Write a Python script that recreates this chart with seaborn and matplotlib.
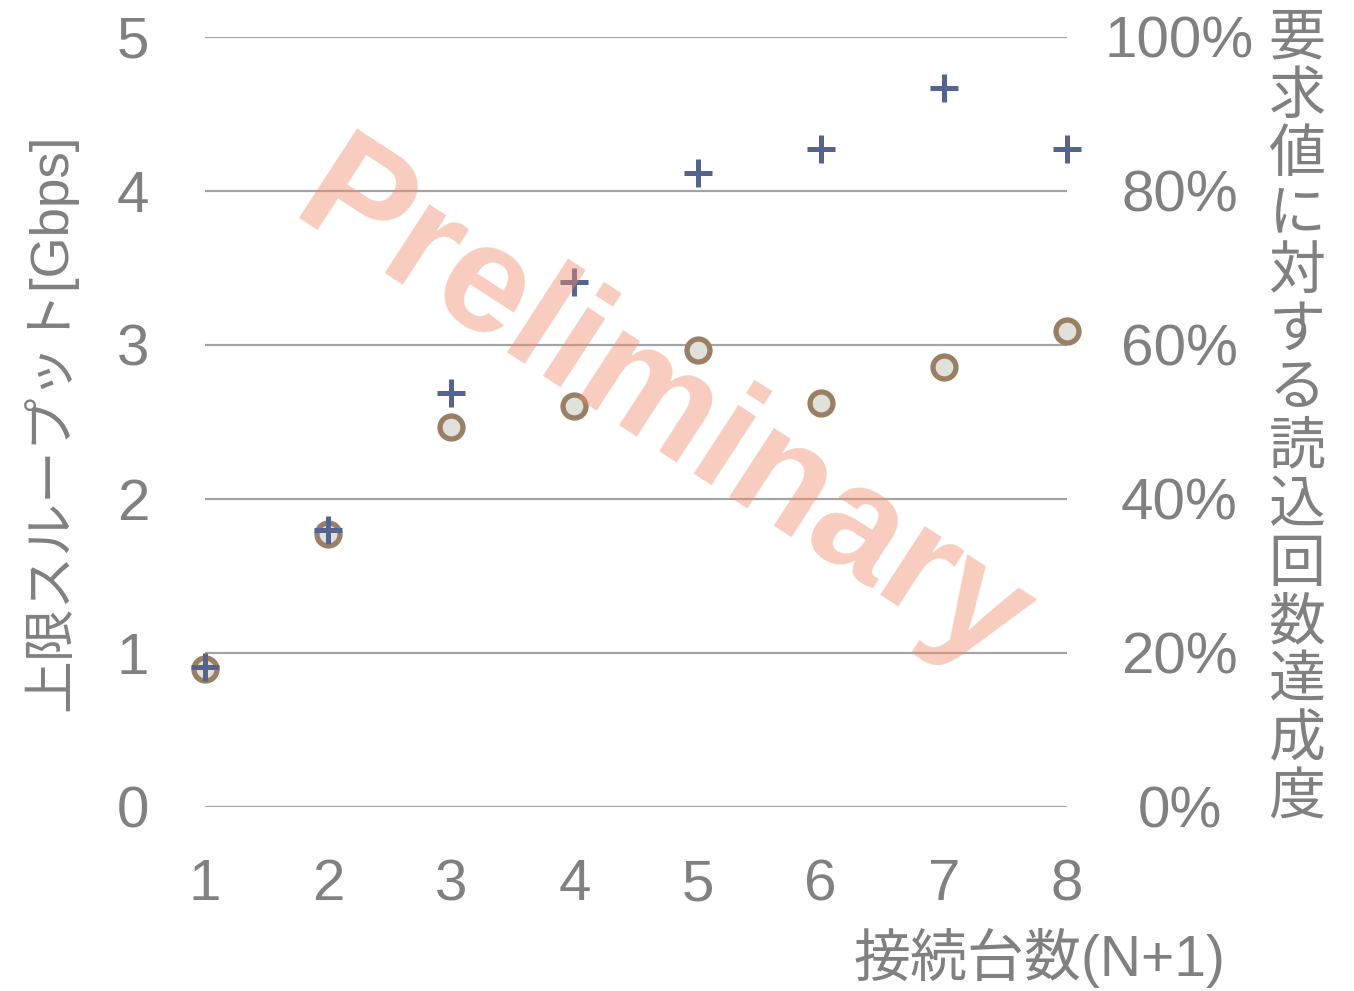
import matplotlib
matplotlib.use("Agg")
import matplotlib.pyplot as plt
import seaborn as sns
import pandas as pd

# Measurements per number of connected nodes
nodes = [1, 2, 3, 4, 5, 6, 7, 8]
throughput_gbps = [0.91, 1.80, 2.69, 3.41, 4.12, 4.27, 4.67, 4.27]
achievement_pct = [17.9, 35.5, 49.4, 52.1, 59.4, 52.5, 57.2, 61.8]

left_ticks = [0, 1, 2, 3, 4, 5]
right_ticks = [0, 20, 40, 60, 80, 100]
right_tick_labels = [f"{v}%" for v in right_ticks]

x_label = "接続台数(N+1)"
left_label = "上限スループット[Gbps]"
right_label = "要求値に対する読込回数達成度"
watermark = "Preliminary"

df = pd.DataFrame({"nodes": nodes, "throughput": throughput_gbps, "ratio": achievement_pct})

sns.set_theme(style="white")
plt.rcParams["font.family"] = ["Liberation Sans", "Noto Sans CJK JP"]

TEXT = "#808080"
W, H = 1354, 991
fig = plt.figure(figsize=(W / 100, H / 100), dpi=100)
ax = fig.add_axes([205 / W, 1 - 807 / H, (1067 - 205) / W, (807 - 37) / H])
ax2 = ax.twinx()

# draw the throughput axis above the ratio axis
ax.set_zorder(2)
ax.patch.set_visible(False)
ax2.set_zorder(1)

sns.scatterplot(data=df, x="nodes", y="ratio", ax=ax2, marker="o", s=273,
                color="#e0e1da", edgecolor="#9a7f63", linewidth=3.8,
                clip_on=False, legend=False, zorder=3)
sns.scatterplot(data=df, x="nodes", y="throughput", ax=ax, marker="+", s=380,
                color="#55648f", edgecolor="#55648f", linewidth=3.6,
                clip_on=False, legend=False, zorder=3)

ax.set_xlim(1, 8)
ax.set_ylim(0, 5)
ax2.set_ylim(0, 100)
ax.set_xticks(nodes)
ax.set_yticks(left_ticks)
ax2.set_yticks(right_ticks)
ax2.set_yticklabels(right_tick_labels)

ax.grid(False)
ax2.grid(False)
ax2.yaxis.grid(True, color="#a4a4a4", linewidth=1.6)
ax2.set_axisbelow(True)

for a in (ax, ax2):
    for sp in a.spines.values():
        sp.set_visible(False)
    a.set_xlabel("")
    a.set_ylabel("")

ax.tick_params(axis="y", length=0, pad=40, labelsize=42, labelcolor=TEXT)
ax.tick_params(axis="x", length=0, pad=37, labelsize=42, labelcolor=TEXT)
ax2.tick_params(axis="y", length=0, pad=81, labelsize=42, labelcolor=TEXT)
for lbl in ax2.get_yticklabels():
    lbl.set_horizontalalignment("center")

# axis titles
fig.text(50 / W, 1 - 422 / H, left_label, rotation=90, ha="center", va="center",
         fontsize=38, color=TEXT)
fig.text(1225 / W, 1 - 958 / H, x_label, ha="right", va="center",
         fontsize=41, color=TEXT)
for i, ch in enumerate(right_label):
    fig.text(1297 / W, 1 - (38 + i * 58.5) / H, ch, ha="center", va="center",
             fontsize=41, color=TEXT, family=["Noto Sans CJK JP"])

# draft stamp
fig.text(662 / W, 1 - 412 / H, watermark, fontsize=111, fontweight="bold",
         color="#f08e6e", alpha=0.45, rotation=-33, ha="center", va="center",
         rotation_mode="anchor", family="Liberation Sans")

fig.savefig("out.png", dpi=100)
